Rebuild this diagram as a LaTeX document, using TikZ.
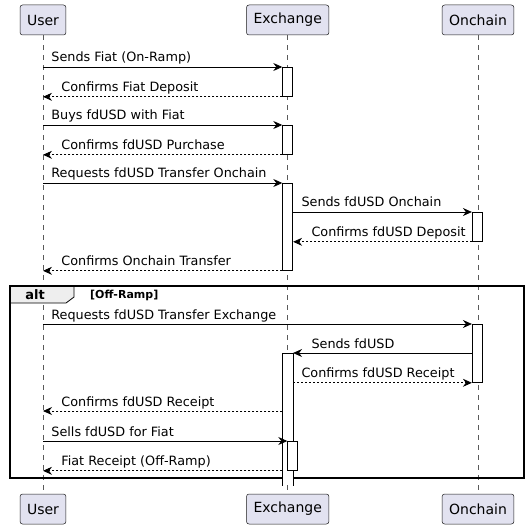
\documentclass[tikz,border=0pt]{standalone}
\usepackage{fontspec}
\setmainfont{DejaVu Sans}
\usetikzlibrary{arrows.meta,calc}
\definecolor{kutuMor}{HTML}{E2E2F0}
\definecolor{cizgiGri}{HTML}{181818}
\definecolor{hatGri}{HTML}{5A5A5A}
\definecolor{sekmeGri}{HTML}{EEEEEE}

\begin{document}
\begin{tikzpicture}[x=1pt,y=-1pt,
  part/.style={draw=cizgiGri,line width=0.5pt,fill=kutuMor,rounded corners=2.5pt,minimum height=30pt,inner xsep=7pt,font=\fontsize{14}{16}\selectfont},
  life/.style={hatGri,line width=0.5pt,dash pattern=on 5pt off 5pt},
  act/.style={draw,line width=0.8pt,fill=white,minimum width=10pt,inner sep=0pt,anchor=north},
  msg/.style={-{Stealth[length=9pt,width=8pt,inset=3pt]},line width=0.8pt},
  ret/.style={msg,dash pattern=on 2pt off 2pt},
  lbl/.style={anchor=base west,font=\fontsize{12.8}{15}\selectfont,inner sep=0pt,yshift=5pt}]
\useasboundingbox (0,0) rectangle (529,529);
\node[part] (u) at (43,20) {User};
\node[part] (e) at (287.7,20) {Exchange};
\node[part] (o) at (478,20) {Onchain};
\node[part] (ub) at (43,509) {User};
\node[part] (eb) at (287.7,509) {Exchange};
\node[part] (ob) at (478,509) {Onchain};
\draw[life] (u) -- (ub);
\draw[life] (e) -- (eb);
\draw[life] (o) -- (ob);
\draw[fill=sekmeGri,line width=0.8pt] (10,286) -- (74,286) -- (74,297) -- (66,303) -- (10,303);
\draw[line width=1.5pt] (10,286) rectangle (524,478);
\node[font=\bfseries\fontsize{13}{15}\selectfont] (altK) at (35,295) {alt};
\node[font=\bfseries\fontsize{11}{13}\selectfont,anchor=west,inner sep=0pt] (altS) at (90,295) {[Off-Ramp]};
\node[act,minimum height=29pt] (a1) at (287.7,67) {};
\node[act,minimum height=29pt] (a2) at (287.7,125) {};
\node[act,minimum height=87pt] (a3) at (287.7,183) {};
\node[act,minimum height=29pt] (b1) at (477.3,212) {};
\node[act,minimum height=58pt] (b2) at (477.3,324) {};
\node[act,draw=none,minimum height=132pt] (a4) at (287.7,353) {};
\draw[line width=0.8pt] (a4.south west) -- (a4.north west) -- (a4.north east) -- (a4.south east);
\node[act,minimum height=29pt] (a5) at (292.7,441) {};
\coordinate (r12) at (287.7,411);
\draw[msg] (u |- a1.north) -- node[lbl,pos=0,xshift=8pt] {Sends Fiat (On-Ramp)} (a1.north west);
\draw[ret] (a1.south west) -- node[lbl,pos=1,xshift=18pt] {Confirms Fiat Deposit} (u |- a1.south);
\draw[msg] (u |- a2.north) -- node[lbl,pos=0,xshift=8pt] {Buys fdUSD with Fiat} (a2.north west);
\draw[ret] (a2.south west) -- node[lbl,pos=1,xshift=18pt] {Confirms fdUSD Purchase} (u |- a2.south);
\draw[msg] (u |- a3.north) -- node[lbl,pos=0,xshift=8pt] {Requests fdUSD Transfer Onchain} (a3.north west);
\draw[msg] (a3.east |- b1.north) -- node[lbl,pos=0,xshift=8pt] {Sends fdUSD Onchain} (b1.north west);
\draw[ret] (b1.south west) -- node[lbl,pos=1,xshift=18pt] {Confirms fdUSD Deposit} (a3.east |- b1.south);
\draw[ret] (a3.south west) -- node[lbl,pos=1,xshift=18pt] {Confirms Onchain Transfer} (u |- a3.south);
\draw[msg] (u |- b2.north) -- node[lbl,pos=0,xshift=8pt] {Requests fdUSD Transfer Exchange} (b2.north west);
\draw[msg] (b2.west |- a4.north) -- node[lbl,pos=1,xshift=18pt] {Sends fdUSD} (a4.north east);
\draw[ret] (a4.east |- b2.south) -- node[lbl,pos=0,xshift=8pt] {Confirms fdUSD Receipt} (b2.south west);
\draw[ret] (a4.west |- r12) -- node[lbl,pos=1,xshift=18pt] {Confirms fdUSD Receipt} (u |- r12);
\draw[msg] (u |- a5.north) -- node[lbl,pos=0,xshift=8pt] {Sells fdUSD for Fiat} (a5.north west);
\draw[ret] (a4.west |- a5.south) -- node[lbl,pos=1,xshift=18pt] {Fiat Receipt (Off-Ramp)} (u |- a5.south);
\end{tikzpicture}
\end{document}
